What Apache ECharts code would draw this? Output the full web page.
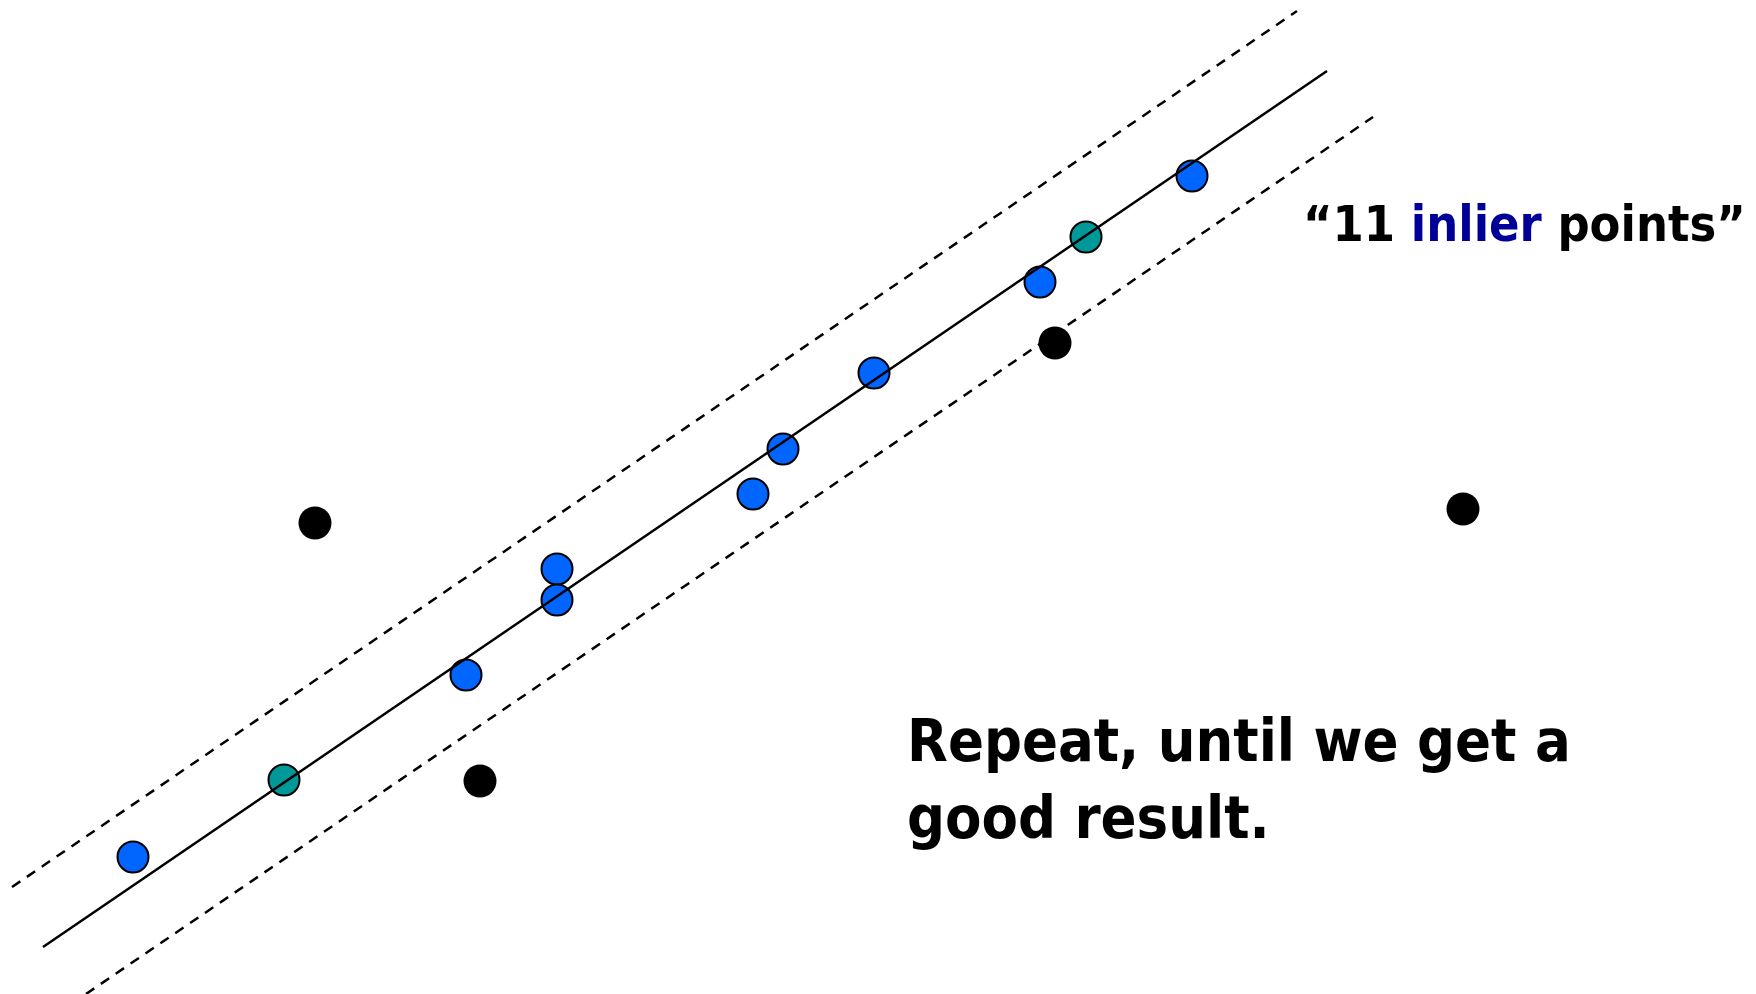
<!DOCTYPE html>
<html>
<head>
<meta charset="utf-8">
<script src="https://cdn.jsdelivr.net/npm/echarts@6/dist/echarts.min.js"></script>
<style>
  html, body { margin: 0; padding: 0; background: #fff; }
  #chart { width: 1756px; height: 994px; }
</style>
</head>
<body>
<div id="chart"></div>
<script>
// 数据：坐标按图面像素读出（y 向下）
const inlierPoints = [
  [133, 857], [466, 675], [557, 569], [557, 600], [753, 494],
  [783, 449], [874, 373], [1040, 282], [1192, 176]
];
const samplePoints = [[284, 780], [1086, 237]];
const outlierPoints = [[315, 523], [480, 781], [1055, 343], [1463, 509]];

const fitLine = [[43, 947], [1327, 71]];
const upperBand = [[12, 887], [1297, 11]];
const lowerBand = [[86, 994], [1373, 117]];

const chart = echarts.init(document.getElementById("chart"), null, { renderer: "canvas" });

const FONT = "'DejaVu Sans Condensed', 'DejaVu Sans', sans-serif";

const option = {
  animation: false,
  backgroundColor: "#fff",
  grid: { left: 0, right: 0, top: 0, bottom: 0 },
  xAxis: { type: "value", min: 0, max: 1756, show: false },
  yAxis: { type: "value", min: 0, max: 994, inverse: true, show: false },
  series: [
    {
      type: "scatter", data: outlierPoints, symbolSize: 33, z: 2,
      itemStyle: { color: "#000", opacity: 1 }
    },
    {
      type: "scatter", data: inlierPoints, symbolSize: 31, z: 2,
      itemStyle: { color: "#0066ff", borderColor: "#000", borderWidth: 2, opacity: 1 }
    },
    {
      type: "scatter", data: samplePoints, symbolSize: 31, z: 2,
      itemStyle: { color: "#009999", borderColor: "#000", borderWidth: 2, opacity: 1 }
    },
    {
      type: "line", data: fitLine, symbol: "none", z: 5,
      lineStyle: { color: "#000", width: 2.5 }
    },
    {
      type: "line", data: upperBand, symbol: "none", z: 5,
      lineStyle: { color: "#000", width: 2.5, type: [10, 8] }
    },
    {
      type: "line", data: lowerBand, symbol: "none", z: 5,
      lineStyle: { color: "#000", width: 2.5, type: [10, 8] }
    }
  ],
  graphic: [
    {
      type: "text", left: 1303, top: 203,
      style: {
        text: "\u201c11 {b|inlier} points\u201d",
        font: "bold 50px " + FONT,
        fill: "#000",
        rich: {
          b: { fill: "#000099", font: "bold 50px " + FONT }
        }
      }
    },
    {
      type: "text", left: 907, top: 707,
      style: {
        text: "Repeat, until we get a\ngood result.",
        font: "bold 59px " + FONT,
        lineHeight: 77,
        fill: "#000"
      }
    }
  ]
};

chart.setOption(option);
</script>
</body>
</html>
